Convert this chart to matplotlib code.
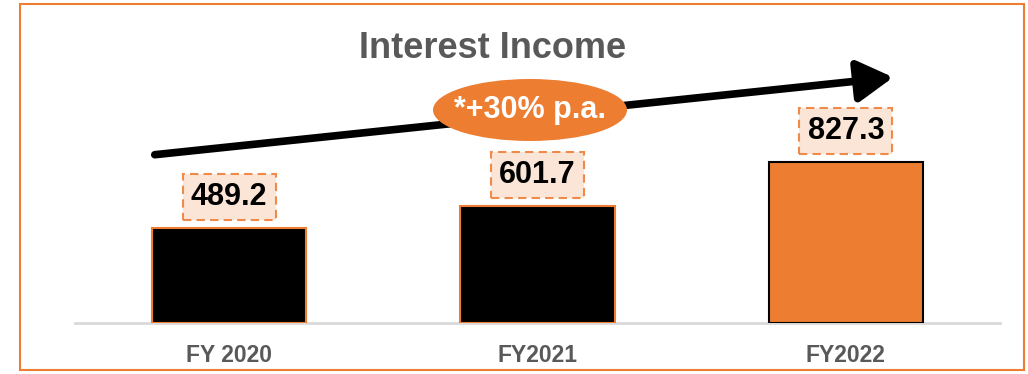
import matplotlib.pyplot as plt
from matplotlib.patches import Rectangle, Ellipse, FancyArrowPatch

plt.rcParams['font.family'] = ['Liberation Sans', 'DejaVu Sans']

# Interest income by fiscal year
years = ['FY 2020', 'FY2021', 'FY2022']
income = [489.2, 601.7, 827.3]
growth_label = '*+30% p.a.'

orange = '#ED7D31'
gray = '#595959'
bar_colors = ['black', 'black', orange]
edge_colors = [orange, orange, 'black']

W, H = 1028, 374
fig = plt.figure(figsize=(W / 100, H / 100), dpi=100)

def fx(px):
    return px / W

def fy(py):
    return 1 - py / H

# orange frame around the whole slide
fig.patches.append(Rectangle((fx(20), fy(370)), fx(1024) - fx(20), fy(4) - fy(370),
                             transform=fig.transFigure, fill=False,
                             edgecolor=orange, linewidth=1.5))

ax = fig.add_axes([fx(75), fy(323), fx(1000) - fx(75), fy(30) - fy(323)])
x = range(len(years))
ax.bar(x, income, width=0.5, color=bar_colors, edgecolor=edge_colors,
       linewidth=1.5, zorder=3)
ax.set_xlim(-0.5, 2.5)
ax.set_ylim(0, 1503)

for s in ['top', 'right', 'left']:
    ax.spines[s].set_visible(False)
ax.spines['bottom'].set_color('#D9D9D9')
ax.spines['bottom'].set_linewidth(2)
ax.set_yticks([])
ax.set_xticks(list(x))
ax.set_xticklabels(years, fontsize=16.5, fontweight='bold', color=gray)
ax.tick_params(axis='x', length=0, pad=15)

# value labels in dashed boxes
for i, v in enumerate(income):
    ax.annotate(f'{v:.1f}', (i, v), xytext=(0, 22), textcoords='offset points',
                ha='center', va='center', fontsize=22, fontweight='bold',
                color='black',
                bbox=dict(boxstyle='square,pad=0.27', facecolor='#FBE5D6',
                          edgecolor='#F08A4B', linestyle=(0, (4, 2.5)),
                          linewidth=1.5))

fig.text(fx(493), fy(48), 'Interest Income', ha='center', va='center',
         fontsize=26, fontweight='bold', color=gray)

# growth arrow
fig.add_artist(FancyArrowPatch(
    (fx(152), fy(155)), (fx(896), fy(77)), transform=fig.transFigure,
    arrowstyle='-|>,head_length=12,head_width=7', mutation_scale=1.8,
    color='black', linewidth=5.5))

fig.patches.append(Ellipse((fx(530), fy(110)), fx(194), 62 / H,
                           transform=fig.transFigure, facecolor=orange,
                           edgecolor='none', zorder=5))
fig.text(fx(530), fy(110), growth_label, ha='center', va='center',
         fontsize=22, fontweight='bold', color='white', zorder=6)

fig.savefig('out.png', dpi=100)
